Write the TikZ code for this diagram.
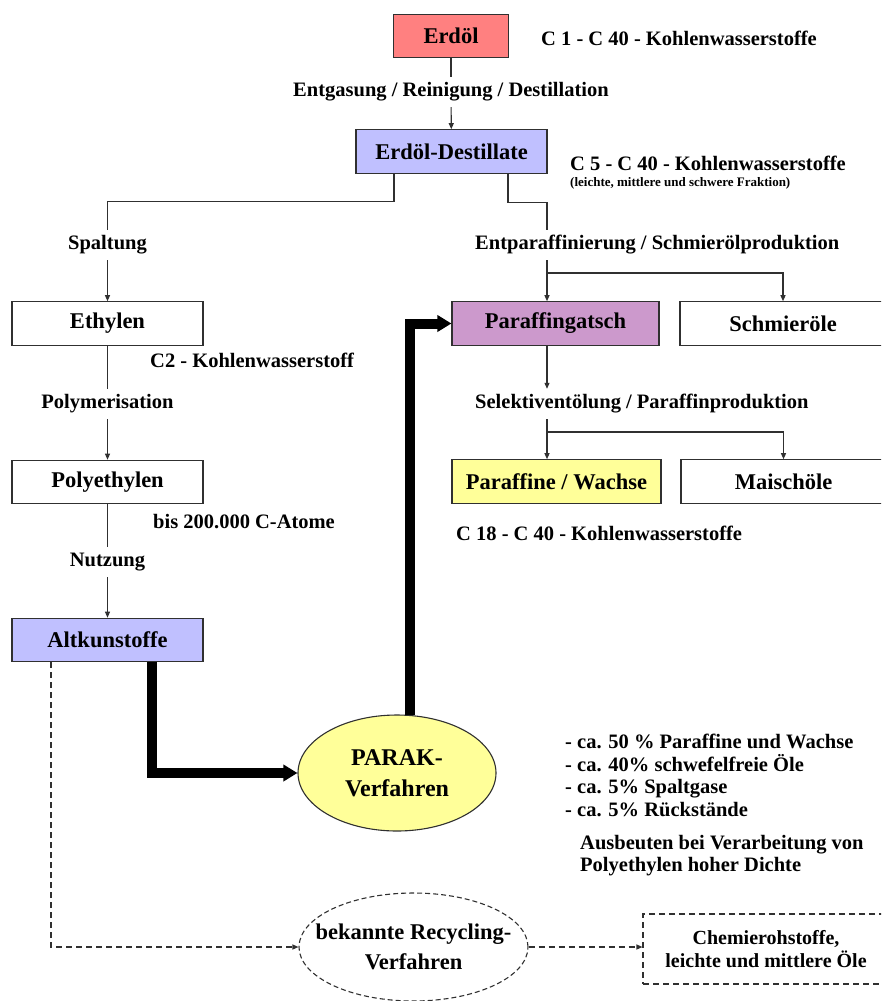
\documentclass[tikz,border=0pt]{standalone}
\usepackage{fontspec}
\setmainfont{Liberation Serif}
\usetikzlibrary{arrows.meta,shapes.geometric,calc}
\definecolor{cred}{HTML}{FF8080}
\definecolor{cblue}{HTML}{C0C0FF}
\definecolor{cplum}{HTML}{CC99CC}
\definecolor{cyel}{HTML}{FFFF99}
\definecolor{cline}{HTML}{303030}
\newcommand{\fsbox}{\fontsize{22.5}{26}\selectfont\bfseries}
\newcommand{\fslab}{\fontsize{20.5}{22.5}\selectfont\bfseries}
\begin{document}
\begin{tikzpicture}[x=1pt,y=-1pt,
  box/.style={draw=cline,line width=1.1pt,inner sep=0pt,font=\fsbox,minimum height=43.5pt},
  lab/.style={inner sep=0pt,minimum height=30pt,font=\fslab},
  txt/.style={inner sep=0pt,font=\fslab,anchor=west},
  ln/.style={draw=cline,line width=1.1pt},
  arr/.style={ln,-{Triangle[length=6pt,width=5pt]}},
  thk/.style={draw=black,line width=10pt,-{Triangle[length=14pt,width=16pt]}},
  dsh/.style={draw=cline,line width=1.1pt,dash pattern=on 6pt off 4pt,-{Triangle[length=6pt,width=5pt]}},
  ell/.style={ellipse,draw=cline,line width=1.1pt,inner sep=0pt,align=center}]
\useasboundingbox (0,0) rectangle (881,1001);
\clip (0,0) rectangle (881,1001);

% nodes
\node[box,fill=cred,minimum width=115pt] (erd) at (451,36) {Erdöl};
\node[txt] (t1) at (541,38) {C 1 - C 40 - Kohlenwasserstoffe};
\node[lab] (lab1) at (451,92) {Entgasung / Reinigung / Destillation};
\node[box,fill=cblue,minimum width=191pt] (dest) at (451.5,151.5) {Erdöl-Destillate};
\node[txt] (t2) at (570,163) {C 5 - C 40 - Kohlenwasserstoffe};
\node[txt,font=\fontsize{13}{15}\selectfont\bfseries] (t3) at (570,183) {(leichte, mittlere und schwere Fraktion)};

\node[lab] (spalt) at (107.5,245) {Spaltung};
\node[lab,anchor=west] (entp) at (475,245) {Entparaffinierung / Schmierölproduktion};

\node[box,fill=white,minimum width=191pt] (eth) at (107.5,323.5) {Ethylen};
\node[box,fill=cplum,minimum width=207pt] (par) at (555.5,323.5) {Paraffingatsch};
\node[box,fill=white,minimum width=206pt] (schm) at (783,323.5) {Schmieröle};
\node[txt] (tc2) at (150,360) {C2 - Kohlenwasserstoff};

\node[lab] (polym) at (107.5,404) {Polymerisation};
\node[lab,anchor=west] (sel) at (475,404) {Selektiventölung / Paraffinproduktion};

\node[box,fill=white,minimum width=191pt] (pe) at (107.5,482) {Polyethylen};
\node[box,fill=cyel,minimum width=209pt] (pw) at (556.5,481.5) {Paraffine / Wachse};
\node[box,fill=white,minimum width=205pt] (mai) at (783.5,481.5) {Maischöle};
\node[txt] (tbis) at (153,522) {bis 200.000 C-Atome};
\node[txt] (tc18) at (456,533) {C 18 - C 40 - Kohlenwasserstoffe};

\node[lab] (nutz) at (107.5,562) {Nutzung};
\node[box,fill=cblue,minimum width=191pt] (alt) at (107.5,640) {Altkunstoffe};

\node[ell,fill=cyel,minimum width=198pt,minimum height=116pt,font=\fontsize{24}{31}\selectfont\bfseries] (parak) at (397,773) {PARAK-\\Verfahren};
\node[txt,align=left,anchor=west] (list) at (565,775.5) {- ca. 50 \% Paraffine und Wachse\\- ca. 40\% schwefelfreie Öle\\- ca. 5\% Spaltgase\\- ca. 5\% Rückstände};
\node[txt,align=left,anchor=west] (ausb) at (580,855.5) {Ausbeuten bei Verarbeitung von\\Polyethylen hoher Dichte};

\node[ell,fill=white,dash pattern=on 5pt off 3pt,minimum width=229pt,minimum height=108pt] (rec) at (413.5,947) {};
\node[inner sep=0pt,align=center,font=\fontsize{22.5}{30}\selectfont\bfseries] (rectext) at (rec.center) {bekannte Recycling-\\Verfahren};
\node[draw=cline,line width=1.1pt,dash pattern=on 6pt off 4pt,inner sep=0pt,minimum width=246pt,minimum height=70pt,align=center,font=\fontsize{20}{23}\selectfont\bfseries] (chem) at (766,949) {Chemierohstoffe,\\leichte und mittlere Öle};

% helper coordinates
\coordinate (pj) at ([xshift=-8.5pt]par.north);
\coordinate (b1) at (547,273);
\coordinate (b2) at (547,432);

% connectors
\draw[ln] (erd) -- (lab1);
\draw[arr] (lab1) -- (dest);
\draw[ln] ([xshift=-57.5pt]dest.south) -- ++(0,28) -| (spalt.north);
\draw[ln] ([xshift=56.5pt]dest.south) -- ++(0,29) -| (entp.north -| pj);
\draw[arr] (spalt) -- (eth);
\draw[arr] (entp.south -| pj) -- (pj);
\draw[arr] (b1) -| (schm.north);
\draw[ln] (eth) -- (polym);
\draw[arr] (polym) -- (pe);
\draw[arr] (par.south -| pj) -- (sel.north -| pj);
\draw[arr] (sel.south -| pj) -- (pw.north -| pj);
\draw[arr] (b2) -| (mai.north);
\draw[ln] (pe) -- (nutz);
\draw[arr] (nutz) -- (alt);

\draw[thk] ([xshift=44.5pt]alt.south) |- (parak.west);
\draw[thk] ([xshift=13pt,yshift=-1pt]parak.north) |- (par.west);

\draw[dsh] ([xshift=-56.5pt]alt.south) |- (rec.west);
\draw[dsh] (rec.east) -- (rec.east -| chem.west);
\end{tikzpicture}
\end{document}
